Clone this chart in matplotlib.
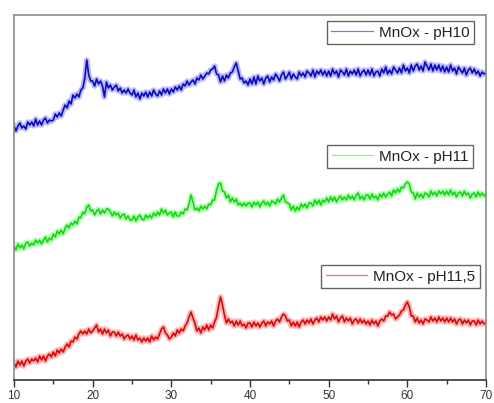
import numpy as np
import matplotlib
matplotlib.use("Agg")
import matplotlib.pyplot as plt
from matplotlib.ticker import MultipleLocator

plt.rcParams["font.family"] = ["Liberation Sans", "DejaVu Sans"]

# 2-theta grid: 10 to 70 degrees, 0.25 degree step
two_theta_start, two_theta_end, two_theta_step = 10.0, 70.0, 0.25

# Stacked intensities (a.u.), one row per 5 degrees
ph10 = [
    254, 249, 254, 257, 252, 254, 251, 258, 255, 258, 254, 261, 255, 259, 255, 260, 262, 257, 260, 259,
    260, 266, 263, 267, 264, 270, 275, 272, 279, 276, 285, 282, 286, 283, 290, 292, 302, 320, 305, 299,
    299, 294, 301, 296, 299, 294, 283, 298, 292, 295, 290, 293, 295, 289, 292, 287, 290, 287, 291, 287,
    285, 290, 283, 287, 281, 287, 284, 288, 283, 288, 284, 290, 286, 284, 289, 285, 291, 287, 291, 286,
    291, 288, 293, 290, 294, 290, 296, 294, 299, 295, 298, 300, 296, 302, 300, 305, 301, 304, 307, 306,
    310, 311, 314, 306, 305, 298, 304, 299, 305, 302, 307, 308, 313, 317, 309, 301, 302, 297, 299, 295,
    301, 296, 303, 296, 304, 299, 302, 296, 302, 304, 298, 303, 300, 306, 303, 299, 305, 308, 301, 304,
    308, 301, 306, 303, 301, 308, 304, 307, 303, 309, 307, 304, 310, 303, 309, 306, 310, 305, 309, 304,
    309, 304, 311, 306, 309, 303, 310, 308, 305, 311, 304, 309, 306, 310, 305, 311, 304, 308, 310, 305,
    310, 305, 311, 304, 308, 309, 304, 311, 307, 313, 306, 310, 306, 313, 310, 307, 312, 307, 315, 309,
    312, 307, 315, 309, 314, 316, 310, 314, 309, 318, 314, 310, 316, 309, 315, 310, 315, 309, 314, 308,
    313, 308, 315, 309, 312, 306, 313, 310, 307, 312, 305, 310, 312, 307, 311, 306, 309, 304, 308, 306,
    307,
]

ph11 = [
    134, 130, 136, 132, 135, 131, 137, 138, 134, 137, 135, 140, 137, 140, 136, 140, 143, 138, 142, 140,
    146, 143, 149, 146, 150, 146, 152, 155, 152, 157, 155, 159, 156, 163, 162, 168, 166, 173, 175, 169,
    170, 165, 169, 171, 166, 170, 167, 171, 171, 168, 164, 168, 165, 167, 162, 165, 166, 161, 164, 160,
    160, 164, 159, 163, 165, 161, 160, 165, 162, 165, 162, 167, 164, 168, 165, 171, 167, 170, 165, 167,
    168, 163, 168, 164, 164, 168, 166, 171, 170, 176, 185, 178, 170, 172, 169, 174, 171, 174, 171, 176,
    175, 180, 180, 190, 196, 197, 189, 188, 182, 185, 178, 182, 178, 181, 175, 177, 174, 177, 174, 177,
    177, 173, 178, 175, 178, 173, 177, 179, 175, 178, 174, 179, 178, 176, 181, 178, 182, 185, 178, 177,
    176, 170, 174, 169, 173, 170, 176, 173, 176, 172, 177, 177, 174, 180, 176, 180, 175, 180, 178, 182,
    178, 183, 179, 183, 178, 182, 184, 180, 183, 180, 185, 181, 184, 180, 185, 187, 181, 184, 180, 185,
    185, 181, 186, 182, 184, 180, 186, 183, 187, 183, 186, 188, 184, 190, 187, 191, 188, 193, 192, 196,
    198, 196, 188, 187, 181, 187, 183, 186, 182, 187, 186, 183, 189, 185, 188, 184, 189, 186, 189, 185,
    189, 185, 190, 185, 188, 183, 187, 188, 184, 189, 185, 187, 182, 186, 187, 183, 188, 184, 187, 184,
    186,
]

ph11_5 = [
    17, 13, 19, 15, 19, 14, 19, 21, 17, 21, 19, 22, 18, 24, 20, 24, 19, 24, 26, 23,
    28, 24, 30, 27, 31, 28, 33, 36, 33, 39, 38, 43, 41, 46, 49, 46, 49, 46, 51, 47,
    49, 52, 55, 48, 51, 46, 51, 47, 50, 44, 48, 48, 44, 48, 44, 46, 41, 44, 45, 41,
    44, 40, 45, 40, 42, 38, 42, 39, 42, 38, 44, 40, 43, 41, 46, 51, 53, 47, 45, 41,
    43, 47, 44, 50, 47, 51, 49, 54, 57, 63, 68, 62, 57, 49, 52, 47, 53, 50, 55, 50,
    55, 52, 58, 63, 74, 83, 75, 65, 57, 61, 57, 59, 54, 59, 55, 59, 54, 56, 52, 57,
    57, 53, 58, 54, 57, 53, 57, 59, 54, 58, 56, 59, 54, 59, 61, 58, 63, 66, 64, 59,
    60, 54, 58, 54, 58, 53, 58, 60, 56, 60, 57, 61, 56, 60, 62, 58, 63, 60, 63, 59,
    63, 60, 66, 61, 64, 58, 62, 64, 58, 62, 59, 62, 56, 60, 61, 57, 61, 57, 60, 56,
    59, 55, 60, 56, 59, 54, 59, 61, 59, 64, 64, 68, 65, 66, 61, 63, 65, 69, 70, 75,
    78, 73, 64, 64, 58, 62, 57, 60, 56, 61, 60, 58, 63, 59, 62, 58, 63, 59, 62, 58,
    62, 58, 62, 58, 61, 56, 60, 61, 56, 60, 57, 60, 55, 59, 59, 55, 60, 56, 59, 56,
    57,
]

labels = ["MnOx - pH10", "MnOx - pH11", "MnOx - pH11,5"]
core_colors = ["#0c0cb8", "#12d812", "#d80a0a"]
halo_colors = ["#3a3aff", "#40ff40", "#ff3030"]
x_ticks = [10, 20, 30, 40, 50, 60, 70]

two_theta = np.arange(two_theta_start, two_theta_end + two_theta_step / 2, two_theta_step)

fig = plt.figure(figsize=(4.94, 4.03), dpi=100)
ax = fig.add_axes([14 / 494, 1 - 380 / 403, 472 / 494, 365 / 403])

series = [ph10, ph11, ph11_5]
lines = []
for y, c, hc in zip(series, core_colors, halo_colors):
    # soft band around each trace, then a crisp core line
    ax.plot(two_theta, y, color=hc, lw=4.0, alpha=0.35, solid_joinstyle="round")
    ln, = ax.plot(two_theta, y, color=c, lw=1.2)
    lines.append(ln)

ax.set_xlim(10, 70)
ax.set_ylim(0, 365)
ax.set_xticks(x_ticks)
ax.xaxis.set_minor_locator(MultipleLocator(5))
ax.set_yticks([])
ax.tick_params(axis="x", which="major", direction="out", length=5, width=1,
               labelsize=8.5, pad=2.5, colors="#333333")
ax.tick_params(axis="x", which="minor", direction="out", length=3, width=1,
               colors="#333333")

for side in ["top", "left", "right"]:
    ax.spines[side].set_color("#8a8a8a")
    ax.spines[side].set_linewidth(1.2)
ax.spines["bottom"].set_color("#333333")
ax.spines["bottom"].set_linewidth(1.2)

# One framed legend per trace, stacked beside each curve
anchors = [(474 / 494, 1 - 21 / 403), (473 / 494, 1 - 145 / 403), (480 / 494, 1 - 265 / 403)]
for ln, lab, anc, hc in zip(lines, labels, anchors, halo_colors):
    leg = fig.legend([ln], [lab], loc="upper right", bbox_to_anchor=anc,
                     bbox_transform=fig.transFigure, fontsize=11,
                     frameon=True, fancybox=False, framealpha=1,
                     edgecolor="#666666", handlelength=2.7, borderpad=0.3,
                     handletextpad=0.4, borderaxespad=0)
    leg.get_frame().set_linewidth(1.0)
    for h in leg.legend_handles:
        h.set_linewidth(0.9)
        h.set_color(hc)
        h.set_alpha(0.7)
    for t in leg.get_texts():
        t.set_color("#222222")

fig.savefig("out.png", dpi=100)
